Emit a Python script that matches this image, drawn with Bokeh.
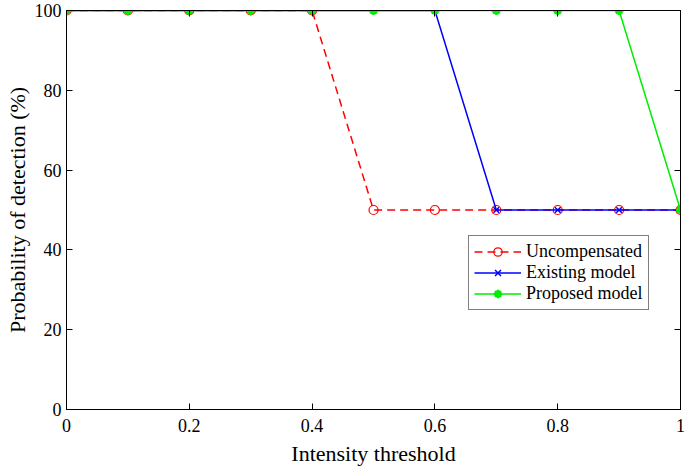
from bokeh.plotting import figure
from bokeh.models import LinearAxis, FixedTicker, Legend, LegendItem, Range1d
from bokeh.embed import file_html
from bokeh.resources import INLINE

x = [0, 0.1, 0.2, 0.3, 0.4, 0.5, 0.6, 0.7, 0.8, 0.9, 1.0]
uncompensated = [100, 100, 100, 100, 100, 50, 50, 50, 50, 50, 50]
existing = [100, 100, 100, 100, 100, 100, 100, 50, 50, 50, 50]
proposed = [100, 100, 100, 100, 100, 100, 100, 100, 100, 100, 50]
xticks = [0, 0.2, 0.4, 0.6, 0.8, 1.0]
xtick_labels = ["0", "0.2", "0.4", "0.6", "0.8", "1"]
yticks = [0, 20, 40, 60, 80, 100]

FONT = "Liberation Serif"

p = figure(width=685, height=470, output_backend="svg", toolbar_location=None,
           x_range=Range1d(0, 1), y_range=Range1d(0, 100),
           min_border_left=66, min_border_right=5, min_border_top=10, min_border_bottom=61)
p.grid.visible = False
p.outline_line_color = "black"
p.outline_line_width = 1

r1 = p.line(x, uncompensated, line_color="#ff0000", line_width=1.5, line_dash="8 5")
m1 = p.scatter(x, uncompensated, marker="circle", size=9, line_color="#ff0000",
               fill_color=None, line_width=1.2)
r2 = p.line(x, existing, line_color="#0000ff", line_width=1.5)
m2 = p.scatter(x, existing, marker="x", size=8, line_color="#0000ff", line_width=1.5)
r3 = p.line(x, proposed, line_color="#00ee00", line_width=1.5)
m3 = p.scatter(x, proposed, marker="asterisk", size=9, line_color="#00ee00", line_width=2.5)
m3b = p.scatter(x, proposed, marker="circle", size=6, line_color=None, fill_color="#00ee00")

def style_axis(ax):
    ax.axis_line_color = "black"
    ax.major_tick_in = 6
    ax.major_tick_out = 0
    ax.minor_tick_in = 0
    ax.minor_tick_out = 0
    ax.major_tick_line_color = "black"
    ax.major_label_text_font = FONT
    ax.major_label_text_font_size = "18px"
    ax.major_label_text_color = "black"
    ax.axis_label_text_font = FONT
    ax.axis_label_text_font_size = "22px"
    ax.axis_label_text_font_style = "normal"
    ax.axis_label_text_color = "black"

p.xaxis.ticker = FixedTicker(ticks=xticks)
p.xaxis.major_label_overrides = {t: l for t, l in zip(xticks, xtick_labels)}
p.yaxis.ticker = FixedTicker(ticks=yticks)
p.xaxis.axis_label = "Intensity threshold"
p.yaxis.axis_label = "Probability of detection (%)"
style_axis(p.xaxis[0])
style_axis(p.yaxis[0])
p.xaxis.major_label_standoff = 9
p.yaxis.major_label_standoff = 5
p.xaxis.axis_label_standoff = 6
p.yaxis.axis_label_standoff = 2

top = LinearAxis(ticker=FixedTicker(ticks=xticks))
style_axis(top)
top.major_label_overrides = {t: "" for t in xticks}
top.major_label_text_font_size = "1px"
top.major_label_standoff = 0
top.axis_label_standoff = 0
right = LinearAxis(ticker=FixedTicker(ticks=yticks))
style_axis(right)
right.major_label_overrides = {t: "" for t in yticks}
right.major_label_text_font_size = "1px"
right.major_label_standoff = 0
right.axis_label_standoff = 0
p.add_layout(top, "above")
p.add_layout(right, "right")

legend = Legend(items=[
    LegendItem(label="Uncompensated", renderers=[r1, m1]),
    LegendItem(label="Existing model", renderers=[r2, m2]),
    LegendItem(label="Proposed model", renderers=[r3, m3]),
], location=(402, 99))
legend.label_text_font = FONT
legend.label_text_font_size = "18px"
legend.label_text_color = "black"
legend.border_line_color = "black"
legend.border_line_width = 1
legend.glyph_width = 47
legend.glyph_height = 21
legend.label_standoff = 5
legend.spacing = 0
legend.padding = 5
legend.margin = 0
legend.label_height = 21
p.add_layout(legend, "center")

open("out.html", "w").write(file_html(p, INLINE))
